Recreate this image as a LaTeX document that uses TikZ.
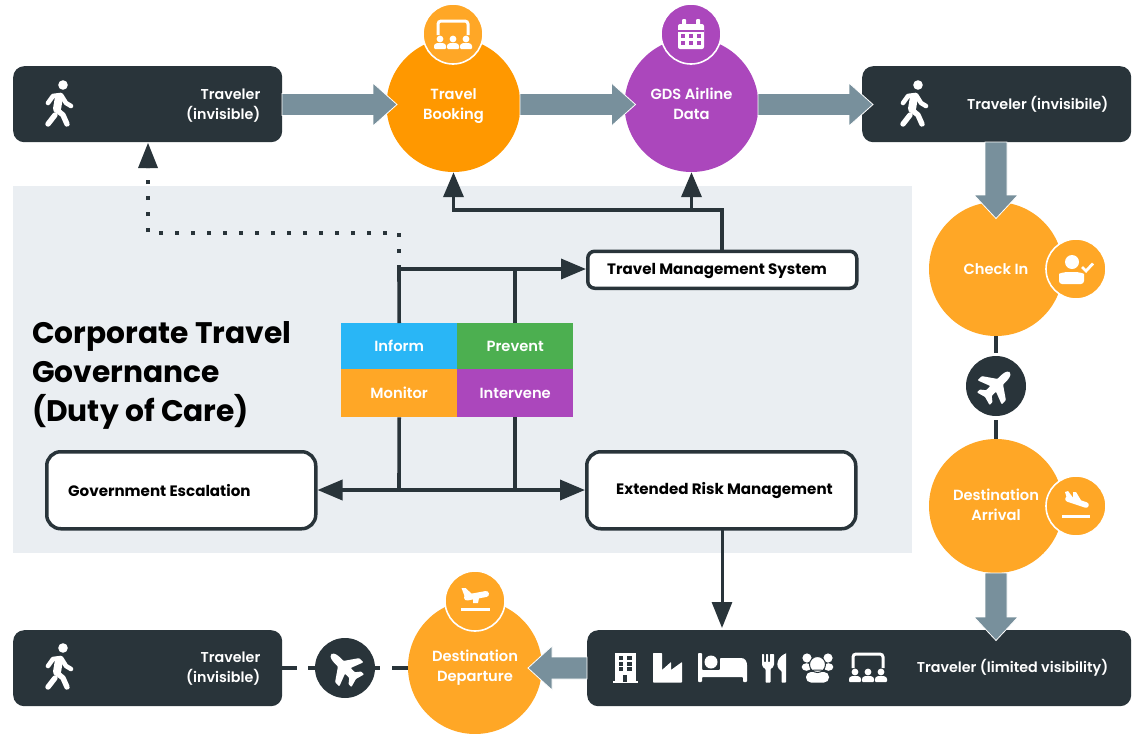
\documentclass[tikz,border=0pt]{standalone}
\usepackage{fontspec}
\setmainfont{Poppins}[UprightFont={* SemiBold},BoldFont={* Bold}]
\usetikzlibrary{arrows.meta}
\definecolor{dark}{HTML}{29343A}
\definecolor{steel}{HTML}{78909C}
\definecolor{panel}{HTML}{EAEEF2}
\definecolor{orgA}{HTML}{FF9800}
\definecolor{orgB}{HTML}{FFA726}
\definecolor{purp}{HTML}{AB47BC}
\definecolor{blu}{HTML}{29B6F6}
\definecolor{grn}{HTML}{4CAF50}
\newcommand{\lowered}[2][1pt]{\raisebox{-#1}{\begin{tabular}{@{}c@{}}#2\end{tabular}}}
\tikzset{
 x=1pt,y=-1pt,
 darkbox/.style={draw=none,fill=dark,rounded corners=11pt,minimum width=#1,minimum height=76pt,inner sep=0pt},
 bigcirc/.style={circle,fill=#1,minimum size=134pt,inner sep=0pt,text=white,align=center,font=\fontsize{14.7}{20}\selectfont},
 iconcirc/.style={circle,fill=#1,draw=white,line width=1.6pt,minimum size=60pt,inner sep=0pt},
 planecirc/.style={circle,fill=dark,minimum size=60pt,inner sep=0pt},
 whitelabel/.style={text=white,align=right,font=\fontsize{14.3}{20}\selectfont,inner sep=0pt},
 cell/.style={fill=#1,text=white,minimum width=116pt,inner sep=0pt,font=\fontsize{14.7}{18}\selectfont},
 outlinebox/.style={draw=dark,line width=3.5pt,fill=white,rounded corners=#1,inner sep=0pt},
 boxlabel/.style={font=\bfseries\fontsize{15.1}{18}\selectfont,inner sep=0pt,text=black},
 wire/.style={draw=dark,line width=3.6pt},
 tip/.style={-{Triangle[length=25pt,width=20pt]}},
 bigarrow/.style={draw=white,line width=0.8pt,fill=steel,line join=miter},
 walkericon/.pic={
   \fill[white] (3,-19) circle (4.8);
   \draw[white,line width=4.6pt,line cap=round,line join=round] (-12,-1)--(-7,-8)--(1,-9)--(6,-1)--(11,2);
   \draw[white,line width=8pt,line cap=round,line join=round] (-1,-7)--(-3,5);
   \draw[white,line width=5.4pt,line cap=round,line join=round] (-3,6)--(3,11)--(7,20);
   \draw[white,line width=5.4pt,line cap=round,line join=round] (-5,11)--(-12,20);
 },
 planeglyph/.pic={
   \fill[white,rounded corners=0.8pt] (0,-19)..controls (3,-19) and (4,-14) .. (4,-10)--(4,-6)--(17,3)--(17,9)--(4,4)--(4,10)--(9,14)--(9,18)--(0,15.5)--(-9,18)--(-9,14)--(-4,10)--(-4,4)--(-17,9)--(-17,3)--(-4,-6)--(-4,-10)..controls (-4,-14) and (-3,-19) .. (0,-19)--cycle;
 },
 arriveglyph/.pic={
   \draw[white,line width=5.6pt,line cap=round] (-8,-2)--(10,4);
   \fill[white] (-11,-9)--(-8,-10)--(-2,-2)--(-8,1)--cycle;
   \fill[white] (-3,-9)--(0,-9)--(6,1)--(-3,-1)--cycle;
 },
 departglyph/.pic={
   \draw[white,line width=6pt,line cap=round] (-8,-3.5)--(11,-7);
   \fill[white] (-13.5,-13)--(-9.5,-13)--(-3,-7)--(-9,-1)--cycle;
   \fill[white] (-2,-7)--(5,-8)--(3,2)--(-2,2)--cycle;
 },
 roomicon/.pic={
   \draw[white,line width=3pt,rounded corners=3pt] (-15,1)--(-15,-13)--(15,-13)--(15,1);
   \foreach \dx in {-13,0,13}{
     \fill[white] (\dx,5) circle (3.4);
     \fill[white,rounded corners=1pt] (\dx-6,15)--(\dx-6,11)--(\dx-3.5,9)--(\dx+3.5,9)--(\dx+6,11)--(\dx+6,15)--cycle;
   }
 },
 calendaricon/.pic={
   \fill[white,rounded corners=2pt] (-13,-10) rectangle (13,15);
   \fill[white,rounded corners=1pt] (-9,-15) rectangle (-5,-8);
   \fill[white,rounded corners=1pt] (5,-15) rectangle (9,-8);
   \fill[purp] (-13,-4) rectangle (13,-2.5);
   \foreach \cx in {-8,0,8}\foreach \cy in {2,9}{\fill[purp] (\cx-2.2,\cy-2.2) rectangle (\cx+2.2,\cy+2.2);}
 },
 checkicon/.pic={
   \fill[white] (-4,-7) circle (7);
   \fill[white,rounded corners=3pt] (-17,15)--(-17,8)..controls (-17,4.5) and (-12,3) .. (-4.5,3)..controls (3,3) and (8,4.5) .. (8,8)--(8,15)--cycle;
   \draw[white,line width=2.8pt] (6,-2)--(10,2)--(17,-5.5);
 },
 buildingicon/.pic={
   \fill[white] (-10.5,-15) rectangle (10.5,13);
   \fill[white] (-12.5,13) rectangle (12.5,14.5);
   \foreach \cy in {-10,-4.5,1}{\fill[dark] (-6.5,\cy-2) rectangle (-2,\cy+2);\fill[dark] (2,\cy-2) rectangle (6.5,\cy+2);}
   \fill[dark] (-2,7) rectangle (2,14);
 },
 factoryicon/.pic={
   \fill[white,rounded corners=0.6pt] (-14.5,-15)--(-5.5,-15)--(-5.5,2)--(3.5,-6)--(3.5,2)--(14.5,-6)--(14.5,14.5)--(-14.5,14.5)--cycle;
 },
 bedicon/.pic={
   \fill[white,rounded corners=0.8pt] (-24,-15)--(-20,-15)--(-20,2)--(-2,2)--(-2,-10)--(18,-10)..controls (23,-10) and (25,-7) .. (25,-2)--(25,14)--(21,14)--(21,9)--(-20,9)--(-20,14)--(-24,14)--cycle;
   \fill[white] (-11,-6) circle (6.5);
 },
 cutleryicon/.pic={
   \fill[white,rounded corners=0.6pt] (-13,-14)--(-11,-14)--(-11,-6)--(-9,-6)--(-9,-14)--(-7,-14)--(-7,-6)--(-5,-6)--(-5,-14)--(-3,-14)--(-2,-14)--(-1,-14)--(-1,-4)..controls (-1,-1) and (-3,0) .. (-4.5,1)--(-4.5,14.5)--(-9.5,14.5)--(-9.5,1)..controls (-11,0) and (-13,-1) .. (-13,-4)--cycle;
   \fill[white,rounded corners=0.6pt] (11,-14.5)--(11,14.5)--(6.5,14.5)--(6.5,3)..controls (3,1) and (1.5,-3) .. (3,-7)..controls (4.5,-11) and (8,-13.5) .. (11,-14.5)--cycle;
 },
 groupicon/.pic={
   \fill[white] (-10.5,-10) circle (4.6);\fill[white] (10.5,-10) circle (4.6);
   \fill[white] (-11,-1) ellipse (4.8 and 3.8);\fill[white] (11,-1) ellipse (4.8 and 3.8);
   \fill[white,rounded corners=5pt] (-11.5,14.5)--(-11.5,4)--(11.5,4)--(11.5,14.5)--cycle;
   \draw[dark,line width=1pt,fill=white] (0,-3.5) circle (8);
   \draw[dark,line width=1pt] (-12,5)..controls (-8,1) and (8,1) .. (12,5);
 },
}
\begin{document}
\begin{tikzpicture}
\useasboundingbox (0,0) rectangle (1136,734);
\fill[panel] (13,186) rectangle (912,553);

% dark boxes
\node[darkbox=269pt,anchor=north west] (tl) at (13,66) {};
\node[darkbox=269pt,anchor=north west] (tr) at (862,66) {};
\node[darkbox=269pt,anchor=north west] (bl) at (13,630) {};
\node[darkbox=544pt,anchor=north west] (br) at (587,630) {};

% circles
\node[bigcirc=orgA] (booking) at (453.5,105) {\lowered{Travel\\Booking}};
\node[bigcirc=purp] (gds) at (691.5,105) {\lowered{GDS Airline\\Data}};
\node[bigcirc=orgB] (checkin) at (996,269) {Check In};
\node[bigcirc=orgB] (arrival) at (996,506) {\lowered[2pt]{Destination\\Arrival}};
\node[bigcirc=orgB] (departure) at (475,667) {\lowered[2pt]{Destination\\Departure}};

% thick arrows
\newcommand{\rarrow}[2]{\path[bigarrow] (#1,93.5)--(#2-24,93.5)--(#2-24,83)--(#2,104.5)--(#2-24,126)--(#2-24,115.5)--(#1,115.5)--cycle;}
\rarrow{282}{397}
\rarrow{520}{635.5}
\rarrow{758}{873}
\path[bigarrow] (985,142)--(1007,142)--(1007,195)--(1018,195)--(996,218.5)--(974,195)--(985,195)--cycle;
\path[bigarrow] (985,573)--(1007,573)--(1007,617)--(1018,617)--(996,640.5)--(974,617)--(985,617)--cycle;
\path[bigarrow] (587,657)--(587,679)--(552,679)--(552,690)--(528,668)--(552,646)--(552,657)--cycle;

% icon circles
\node[iconcirc=orgB] (ic1) at (453,34) {};
\node[iconcirc=purp] (ic2) at (691,34) {};
\node[iconcirc=orgB] (ic3) at (1076,269) {};
\node[iconcirc=orgB] (ic4) at (1076,506) {};
\node[iconcirc=orgB] (ic5) at (475,601) {};
\pic at (453,34) {roomicon};
\pic at (691,34) {calendaricon};
\pic at (1076,269) {checkicon};
\pic at (1076,501) {arriveglyph};
\fill[white] (1062,515) rectangle (1090,518);
\pic at (475,601) {departglyph};
\fill[white] (461,607.5) rectangle (490,610.5);

% plane circles and dashes
\node[planecirc] (pl1) at (996,386) {};
\node[planecirc] (pl2) at (345,668) {};
\draw[dark,line width=4pt] (checkin.south)--(996,353);
\draw[dark,line width=4pt] (996,420)--(arrival.north);
\draw[dark,line width=3.6pt,dash pattern=on 15pt off 11pt on 7pt off 40pt] (bl.east |- pl2.west)--(pl2.west);
\draw[dark,line width=3.6pt] (pl2.east)--(380,668);
\draw[dark,line width=3.6pt] (392,668)--(departure.west |- pl2.east);
\pic[rotate=-45] at (996,386) {planeglyph};
\pic[rotate=45] at (345,668) {planeglyph};

% walkers
\pic at (60,104) {walkericon};
\pic at (915,104) {walkericon};
\pic at (60,667) {walkericon};
% bottom icons
\pic at (625,668) {buildingicon};
\pic at (667.5,668) {factoryicon};
\pic at (722,668) {bedicon};
\pic at (775,668) {cutleryicon};
\pic at (817.5,668) {groupicon};
\pic at (868,667) {roomicon};

% labels
\node[whitelabel,anchor=east] (t1) at (260.5,105.5) {Traveler\\(invisible)};
\node[whitelabel,anchor=east] (t2) at (1108.5,104.5) {Traveler (invisibile)};
\node[whitelabel,anchor=east] (t3) at (260.5,668.5) {Traveler\\(invisible)};
\node[whitelabel,anchor=east] (t4) at (1108.5,667.5) {Traveler (limited visibility)};

% outlined boxes
\node[outlinebox=7pt,minimum width=269pt,minimum height=37pt,anchor=north west] (tms) at (586,249.5) {};
\node[outlinebox=14pt,minimum width=269pt,minimum height=77pt,anchor=north west] (gov) at (45,450) {};
\node[outlinebox=14pt,minimum width=269pt,minimum height=77pt,anchor=north west] (ext) at (585,450) {};
\node[boxlabel,anchor=west] (tmstext) at (607,271) {Travel Management System};
\node[boxlabel,anchor=west] (govtext) at (68,491) {Government Escalation};
\node[boxlabel,anchor=west] (exttext) at (616,491) {Extended Risk Management};

% grid
\node[cell=blu,minimum height=46pt,anchor=north west] (inform) at (341,323) {Inform};
\node[cell=grn,minimum height=46pt,anchor=north west] (prevent) at (457,323) {Prevent};
\node[cell=orgB,minimum height=48pt,anchor=north west] (monitor) at (341,369) {Monitor};
\node[cell=purp,minimum height=48pt,anchor=north west] (intervene) at (457,369) {Intervene};

% wires
\coordinate (topbar) at (399,269);
\coordinate (botbar) at (399,490);
\draw[dark,line width=4pt,dash pattern=on 4pt off 12pt] (topbar)--(399,233)--(148,233)--(148,168);
\draw[wire,tip] (inform.north)--(topbar)--(topbar -| tms.west);
\draw[wire] (prevent.north)--(prevent.north |- topbar);
\draw[wire,tip] (botbar)--(botbar -| gov.east);
\draw[wire,tip] (botbar)--(botbar -| ext.west);
\draw[wire] (monitor.south)--(botbar);
\draw[wire] (intervene.south)--(intervene.south |- botbar);
\fill[dark] (138,168)--(158,168)--(148,143)--cycle;
\draw[wire,tip] (722,250)--(722,210)--(453.5,210)--(booking.south);
\draw[wire,tip] (691.5,210)--(gds.south);
\draw[dark,line width=3pt,-{Triangle[length=26pt,width=20pt]}] (722,529)--(722,628);

% title
\node[anchor=north west,align=left,inner sep=0pt,font=\bfseries\fontsize{29.7}{39}\selectfont,text=black] (title) at (32,321) {Corporate Travel\\Governance\\(Duty of Care)};
\end{tikzpicture}
\end{document}
